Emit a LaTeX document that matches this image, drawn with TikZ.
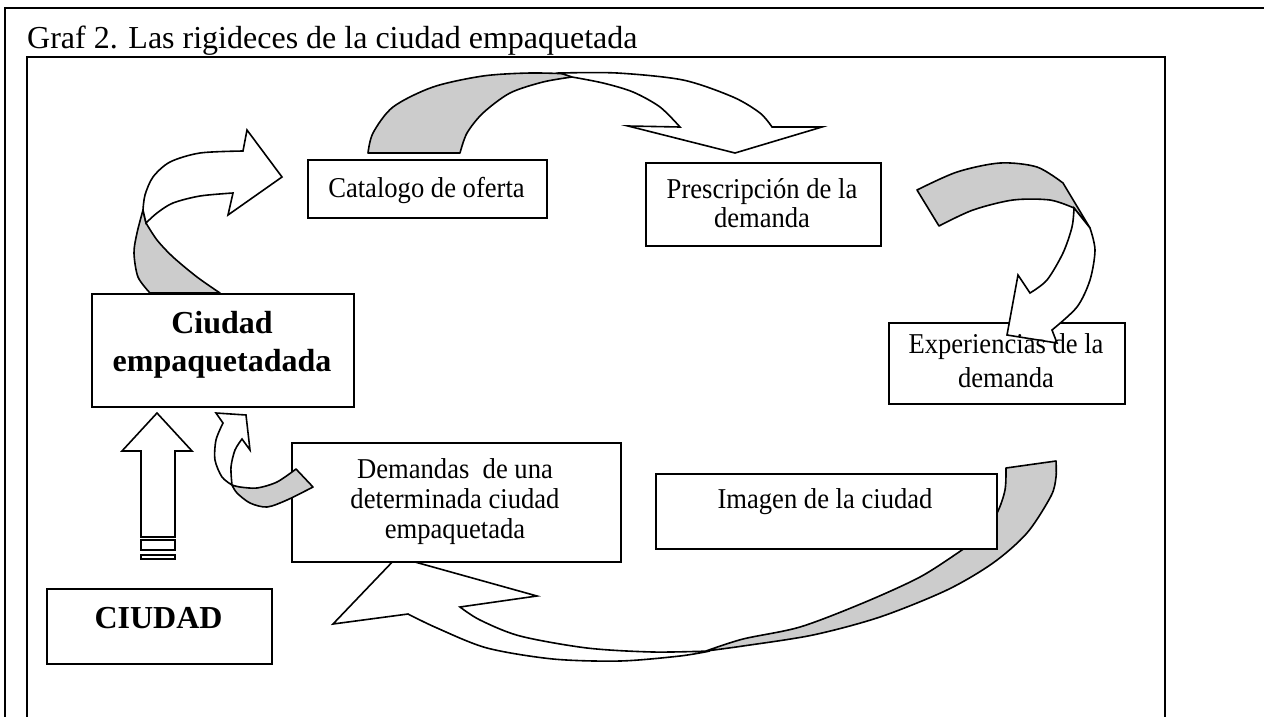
\documentclass[tikz,border=0pt]{standalone}
\usepackage{fontspec}
\setmainfont{Liberation Serif}
\newcommand{\tallx}[1]{\scalebox{1}[1.08]{#1}}
\begin{document}
\begin{tikzpicture}[x=1pt,y=-1pt,
  frame/.style={draw=black, line width=1.8pt},
  box/.style={draw=black, line width=1.7pt, fill=white, inner sep=0pt, anchor=north west},
  txt/.style={font=\fontsize{26.6}{30}\selectfont, inner sep=0pt, anchor=base},
  btxt/.style={font=\bfseries\fontsize{32}{36}\selectfont, inner sep=0pt, anchor=base},
  ttl/.style={font=\fontsize{32}{36}\selectfont, inner sep=0pt, anchor=base west},
  graypart/.style={fill=black!20, draw=black, line width=1.6pt, line join=round},
  whitepart/.style={fill=white, draw=black, line width=1.6pt, line join=miter}]
\useasboundingbox (0,0) rectangle (1264,716);
% frames
\draw[frame] (5,720) -- (5,8) -- (1270,8);
\draw[frame] (27,720) -- (27,57) -- (1165,57) -- (1165,720);
\node[ttl] (title) at (27,48) {Graf 2. Las rigideces de la ciudad empaquetada};

% big arrow: Imagen -> Demandas (behind boxes)
\filldraw[graypart] (1006,468) -- (1056,461) -- plot[smooth] coordinates {(1056,461) (1056,477) (1051,496) (1027,533) (993,563) (947,590) (880,617) (813,635) (743,646) (706,651)} -- plot[smooth] coordinates {(706,651) (743,639) (800,627) (863,603) (920,577) (962,550) (980,537) (997,513) (1005,490) (1006,468)} -- cycle;
\filldraw[whitepart] plot[smooth] coordinates {(710,651) (653,652) (587,648) (520,636) (480,620) (460,607)} -- (537,596) -- (397,557) -- (333,624) -- (408,614) -- plot[smooth] coordinates {(408,614) (437,628) (487,648) (553,659) (620,661) (680,656) (710,651)} -- cycle;

% boxes
\node[box, minimum width=239pt, minimum height=58pt] (cat) at (307,159) {};
\node[box, minimum width=235pt, minimum height=83pt] (pre) at (645,162) {};
\node[box, minimum width=262pt, minimum height=113pt] (ce) at (91,293) {};
\node[box, minimum width=329pt, minimum height=119pt] (dem) at (291,442) {};
\node[box, minimum width=341pt, minimum height=75pt] (ima) at (655,473) {};
\node[box, minimum width=225pt, minimum height=75pt] (ciu) at (46,588) {};
\node[box, minimum width=236pt, minimum height=81pt] (exp) at (888,322) {};

% top-left arrow: Ciudad empaquetadada -> Catalogo
\filldraw[graypart] plot[smooth] coordinates {(150,293) (138,277) (134,253) (137,233) (143,210)} -- (146,223) -- plot[smooth] coordinates {(146,223) (157,240) (173,257) (197,277) (220,293)} -- cycle;
\filldraw[whitepart] plot[smooth] coordinates {(143,210) (145,195) (153,177) (170,162) (200,153) (243,151)} -- (247,130) -- (282,177) -- (228,215) -- (233,193) -- plot[smooth] coordinates {(233,193) (200,196) (173,203) (157,213) (146,223)} -- cycle;

% top arrow: Catalogo -> Prescripcion
\filldraw[graypart] plot[smooth] coordinates {(368,153) (373,133) (393,107) (433,87) (483,76) (530,73) (572,74)} -- (572,77) -- plot[smooth] coordinates {(572,77) (543,82) (510,93) (483,113) (467,133) (460,153)} -- cycle;
\filldraw[whitepart] plot[smooth] coordinates {(560,73) (617,73) (683,80) (733,97) (760,113) (772,127)} -- (822,127) -- (735,153) -- (628,126) -- (680,127) -- plot[smooth] coordinates {(680,127) (660,107) (633,92) (603,83) (572,77)} -- cycle;

% right arrow: Prescripcion -> Experiencias
\filldraw[graypart] plot[smooth] coordinates {(917,190) (957,172) (1000,163) (1037,167) (1063,183)} -- (1090,228) -- (1074,208) -- plot[smooth] coordinates {(1074,208) (1050,200) (1013,200) (973,210) (939,226)} -- cycle;
\filldraw[whitepart] plot[smooth] coordinates {(1090,228) (1095,250) (1090,280) (1077,307) (1052,330)} -- (1057,343) -- (1007,335) -- (1018,275) -- (1030,293) -- plot[smooth] coordinates {(1030,293) (1047,280) (1063,253) (1072,227) (1074,208)} -- cycle;

% small arrow: Demandas -> Ciudad empaquetadada
\filldraw[graypart] (296,469) -- (313,487) -- plot[smooth] coordinates {(313,487) (287,500) (267,507) (250,503) (237,493) (232,485)} -- plot[smooth] coordinates {(232,485) (240,487) (257,488) (277,482) (296,469)} -- cycle;
\filldraw[whitepart] plot[smooth] coordinates {(232,485) (222,477) (215,460) (216,440) (223,423)} -- (216,413) -- (246,415) -- (250,450) -- (242,439) -- plot[smooth] coordinates {(242,439) (235,450) (231,467) (232,485)} -- cycle;

% vertical arrow: CIUDAD -> Ciudad empaquetadada
\filldraw[whitepart] (157,413) -- (192,451) -- (175,451) -- (175,537) -- (141,537) -- (141,451) -- (122,451) -- cycle;
\filldraw[whitepart] (141,540) rectangle (175,550);
\filldraw[whitepart] (141,555) rectangle (175,559);

% texts
\node[txt] (catT) at (426.5,197) {\tallx{Catalogo de oferta}};
\node[txt] (preT1) at (762,198) {\tallx{Prescripción de la}};
\node[txt] (preT2) at (762,227) {\tallx{demanda}};
\node[txt] (expT1) at (1006,353) {\tallx{Experiencias de la}};
\node[txt] (expT2) at (1006,387) {\tallx{demanda}};
\node[btxt] (ceT1) at (222,333) {Ciudad};
\node[btxt] (ceT2) at (222,371) {empaquetadada};
\node[txt] (demT1) at (455,478) {\tallx{Demandas\ \ de una}};
\node[txt] (demT2) at (455,508) {\tallx{determinada ciudad}};
\node[txt] (demT3) at (455,538) {\tallx{empaquetada}};
\node[txt] (imaT) at (825,508) {\tallx{Imagen de la ciudad}};
\node[btxt] (ciuT) at (158.5,628) {CIUDAD};
\end{tikzpicture}
\end{document}
